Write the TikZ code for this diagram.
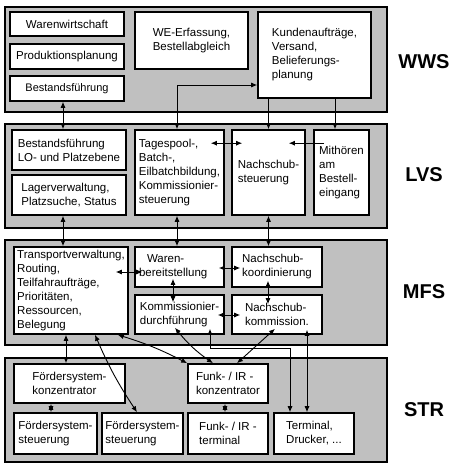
\documentclass[tikz,border=0pt]{standalone}
\usepackage{fontspec}
\setmainfont{Liberation Sans}
\usetikzlibrary{arrows.meta}
\definecolor{lgray}{HTML}{C0C0C0}
\begin{document}
\begin{tikzpicture}[x=1pt,y=-1pt,
  layer/.style={draw=black,line width=2.3pt,fill=lgray,anchor=north west,inner sep=0pt},
  box/.style={draw=black,line width=1.6pt,fill=white,inner sep=2pt,align=left,
    font=\fontsize{11.5}{14}\selectfont},
  lab/.style={font=\fontsize{20}{24}\selectfont\bfseries},
  con/.style={line width=0.9pt,draw=black},
  >={Latex[length=6pt,width=5pt]}]
\useasboundingbox (0,0) rectangle (454,466);
% layers
\node[layer,minimum width=382pt,minimum height=105pt] (Lwws) at (4,6) {};
\node[layer,minimum width=382pt,minimum height=104pt] (Llvs) at (4,123) {};
\node[layer,minimum width=382pt,minimum height=105pt] (Lmfs) at (4,239) {};
\node[layer,minimum width=382pt,minimum height=104pt] (Lstr) at (4,357) {};
\node[lab] (twws) at (424,62) {WWS};
\node[lab] (tlvs) at (424,175) {LVS};
\node[lab] (tmfs) at (424,292) {MFS};
\node[lab] (tstr) at (424,410) {STR};
% WWS
\node[box,minimum width=114pt,minimum height=24pt] (ww) at (67,24) {Warenwirtschaft};
\node[box,minimum width=114pt,minimum height=25pt] (pp) at (67,56.5) {Produktionsplanung};
\node[box,minimum width=114pt,minimum height=25pt,font=\fontsize{11}{14}\selectfont] (bfw) at (67,88.5) {Bestandsführung};
\node[box,minimum width=113pt,minimum height=57pt] (we) at (191.5,40.5) {WE-Erfassung,\\Bestellabgleich};
\node[box,minimum width=113pt,minimum height=86pt] (ka) at (314.5,55) {Kundenaufträge,\\Versand,\\Belieferungs-\\planung};
% LVS
\node[box,minimum width=114pt,minimum height=40pt] (bfl) at (69,150) {Bestandsführung\\LO- und Platzebene};
\node[box,minimum width=114pt,minimum height=40pt] (lv) at (69,195) {Lagerverwaltung,\\Platzsuche, Status};
\node[box,minimum width=89pt,minimum height=85pt] (tp) at (179.5,172.5) {Tagespool-,\\Batch-,\\Eilbatchbildung,\\Kommissionier-\\steuerung};
\node[box,minimum width=73pt,minimum height=85pt] (ns) at (268.5,172.5) {Nachschub-\\steuerung};
\node[box,minimum width=55pt,minimum height=85pt] (mh) at (341.5,172.5) {Mithören\\am\\Bestell-\\eingang};
% MFS
\node[box,minimum width=114pt,minimum height=87pt] (tv) at (71,290.5) {Transportverwaltung,\\Routing,\\Teilfahraufträge,\\Prioritäten,\\Ressourcen,\\Belegung};
\node[box,minimum width=89pt,minimum height=40pt,text width=81pt,inner xsep=4pt] (wb) at (179.5,267) {\hspace*{8pt}Waren-\\bereitstellung};
\node[box,minimum width=90pt,minimum height=40pt] (nk) at (277,267) {Nachschub-\\koordinierung};
\node[box,minimum width=89pt,minimum height=39pt] (kd) at (179.5,314.5) {Kommissionier-\\durchführung};
\node[box,minimum width=90pt,minimum height=39pt] (nkm) at (277,314.5) {Nachschub-\\kommission.};
% STR
\node[box,minimum width=111pt,minimum height=39pt] (fk) at (69.5,383.5) {Fördersystem-\\konzentrator};
\node[box,minimum width=80pt,minimum height=39pt] (fik) at (228,383.5) {Funk- / IR -\\konzentrator};
\node[box,minimum width=83pt,minimum height=41pt] (fs1) at (55.5,433.5) {Fördersystem-\\steuerung};
\node[box,minimum width=81pt,minimum height=41pt] (fs2) at (142.5,433.5) {Fördersystem-\\steuerung};
\node[box,minimum width=80pt,minimum height=41pt] (fit) at (228,433.5) {Funk- / IR -\\terminal};
\node[box,minimum width=80pt,minimum height=41pt] (td) at (314,433.5) {Terminal,\\Drucker, ...};
% connectors WWS-LVS
\coordinate (a1) at ([xshift=-6pt]bfl.north);
\draw[con,<->] (bfw.south -| a1) -- (a1);
\draw[con,<->] ([yshift=-30pt]ka.west) -| ([xshift=-2.5pt]tp.north);
\draw[con,->] (ka.south -| ns.north) -- (ns.north);
\coordinate (a4) at ([xshift=-6.5pt]mh.north);
\draw[con,->] (ka.south -| a4) -- (a4);
% LVS internal
\draw[con,<->] ([xshift=-14pt,yshift=-14pt]tp.north east) -- ([xshift=11pt,yshift=-14pt]ns.north west);
\draw[con,->] ([xshift=11pt,yshift=-14pt]mh.north west) -- ([xshift=-17pt,yshift=-14pt]ns.north east);
% LVS-MFS
\coordinate (a7) at ([xshift=-6pt]lv.south);
\draw[con,<->] (a7) -- (a7 |- tv.north);
\coordinate (a8) at ([xshift=-2.5pt]tp.south);
\draw[con,<->] (a8) -- (a8 |- wb.north);
\draw[con,<->] (ns.south) -- (ns.south |- nk.north);
% MFS internal
\draw[con,<->] ([xshift=-13pt,yshift=18.5pt]tv.east) -- ([xshift=8pt,yshift=-5pt]wb.west);
\draw[con,<->] ([xshift=-6pt,yshift=-1pt]wb.east) -- ([xshift=9pt,yshift=-1pt]nk.west);
\draw[con,<->] ([xshift=-6.5pt,yshift=9pt]wb.south) -- ([xshift=-6.5pt,yshift=-8pt]kd.north);
\draw[con,<->] ([xshift=-9pt,yshift=7pt]nk.south) -- ([xshift=-9pt,yshift=-10pt]nkm.north);
\draw[con,<->] ([xshift=-7pt,yshift=-0.5pt]kd.east) -- ([xshift=9pt,yshift=-0.5pt]nkm.west);
% MFS-STR
\coordinate (a15) at ([xshift=-5pt]tv.south);
\draw[con,<->] (a15) -- (a15 |- fk.north);
\draw[con,<->] ([xshift=24pt]tv.south) to[bend right=5] ([xshift=-5.5pt]fs2.north);
\draw[con,<->] ([xshift=-11pt]tv.south east) to[bend left=5] (fik.north west);
\draw[con,<->] ([xshift=-4.5pt,yshift=7pt]kd.south) to[bend right=8] ([xshift=-15pt]fik.north);
\draw[con,<->] ([xshift=-2pt,yshift=6pt]nkm.south) -- ([xshift=9pt]fik.north);
\draw[con,<->] ([xshift=30.5pt,yshift=6pt]kd.south) -- ++(0,20) -| ([xshift=-24pt]td.north);
\draw[con,<->] ([xshift=30pt,yshift=5pt]nkm.south) -- ([xshift=-7pt]td.north);
% STR internal
\draw[con,<->] ([xshift=-3pt]fik.south) -- ([xshift=-3pt]fit.north);
\draw[con,<->] ([xshift=-18.5pt]fk.south) -- ([xshift=-4.5pt]fs1.north);
\end{tikzpicture}
\end{document}
